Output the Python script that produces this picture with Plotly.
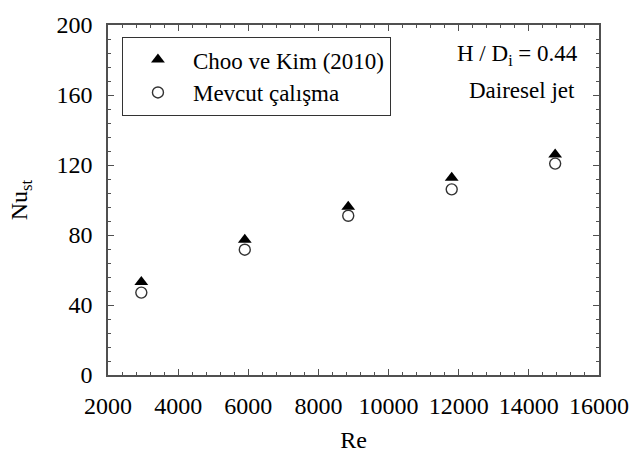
import plotly.graph_objects as go

re_vals = [2950, 5900, 8850, 11800, 14750]
nu_choo = [53.1, 77.3, 96.2, 112.7, 126.0]
nu_mevcut = [47.1, 71.6, 91.0, 106.1, 120.8]

x_ticks = [2000, 4000, 6000, 8000, 10000, 12000, 14000, 16000]
y_ticks = [0, 40, 80, 120, 160, 200]

FONT = "'Liberation Serif', 'DejaVu Serif', serif"
AX = "#505050"

fig = go.Figure()
fig.add_trace(go.Scatter(
    x=re_vals, y=nu_choo, mode="markers", name="Choo ve Kim (2010)",
    marker=dict(symbol="triangle-up", size=12, color="black", line=dict(width=0)),
))
fig.add_trace(go.Scatter(
    x=re_vals, y=nu_mevcut, mode="markers", name="Mevcut çalışma",
    marker=dict(symbol="circle-open", size=11, color="#333333", line=dict(width=1.4)),
))

axis_common = dict(
    showline=True, linecolor=AX, linewidth=1.5, mirror="ticks",
    ticks="inside", tickcolor=AX, tickwidth=1.2, ticklen=6,
    showgrid=False, zeroline=False,
    tickfont=dict(family=FONT, size=24, color="black"),
)

fig.update_xaxes(
    range=[2000, 16000], tickvals=x_ticks, ticktext=[str(v) for v in x_ticks],
    minor=dict(ticks="inside", dtick=400, ticklen=3, tickcolor=AX, tickwidth=1),
    ticklabelstandoff=8,
    title=dict(text="Re", font=dict(family=FONT, size=24, color="black"), standoff=14),
    **axis_common,
)
fig.update_yaxes(
    range=[0, 200], tickvals=y_ticks, ticktext=[str(v) for v in y_ticks],
    minor=dict(ticks="inside", dtick=8, ticklen=3, tickcolor=AX, tickwidth=1),
    ticklabelstandoff=9,
    title=dict(text="Nu<sub>st</sub>", font=dict(family=FONT, size=24, color="black"), standoff=22),
    **axis_common,
)

fig.add_annotation(
    xref="paper", yref="paper", x=0.962, y=0.915, xanchor="right", yanchor="middle",
    text="H / D<sub>i</sub> = 0.44", showarrow=False,
    font=dict(family=FONT, size=23, color="black"),
)
fig.add_annotation(
    xref="paper", yref="paper", x=0.956, y=0.812, xanchor="right", yanchor="middle",
    text="Dairesel jet", showarrow=False,
    font=dict(family=FONT, size=23, color="black"),
)

fig.update_layout(
    width=641, height=461,
    margin=dict(l=108, r=30, t=15, b=84),
    paper_bgcolor="white", plot_bgcolor="white",
    font=dict(family=FONT),
    showlegend=True,
    legend=dict(
        x=0.028, y=0.966, xanchor="left", yanchor="top",
        bordercolor="#333333", borderwidth=1.2, bgcolor="white",
        font=dict(family=FONT, size=23, color="black"),
        itemwidth=60, tracegroupgap=0,
    ),
)

fig.write_html("out.html")
